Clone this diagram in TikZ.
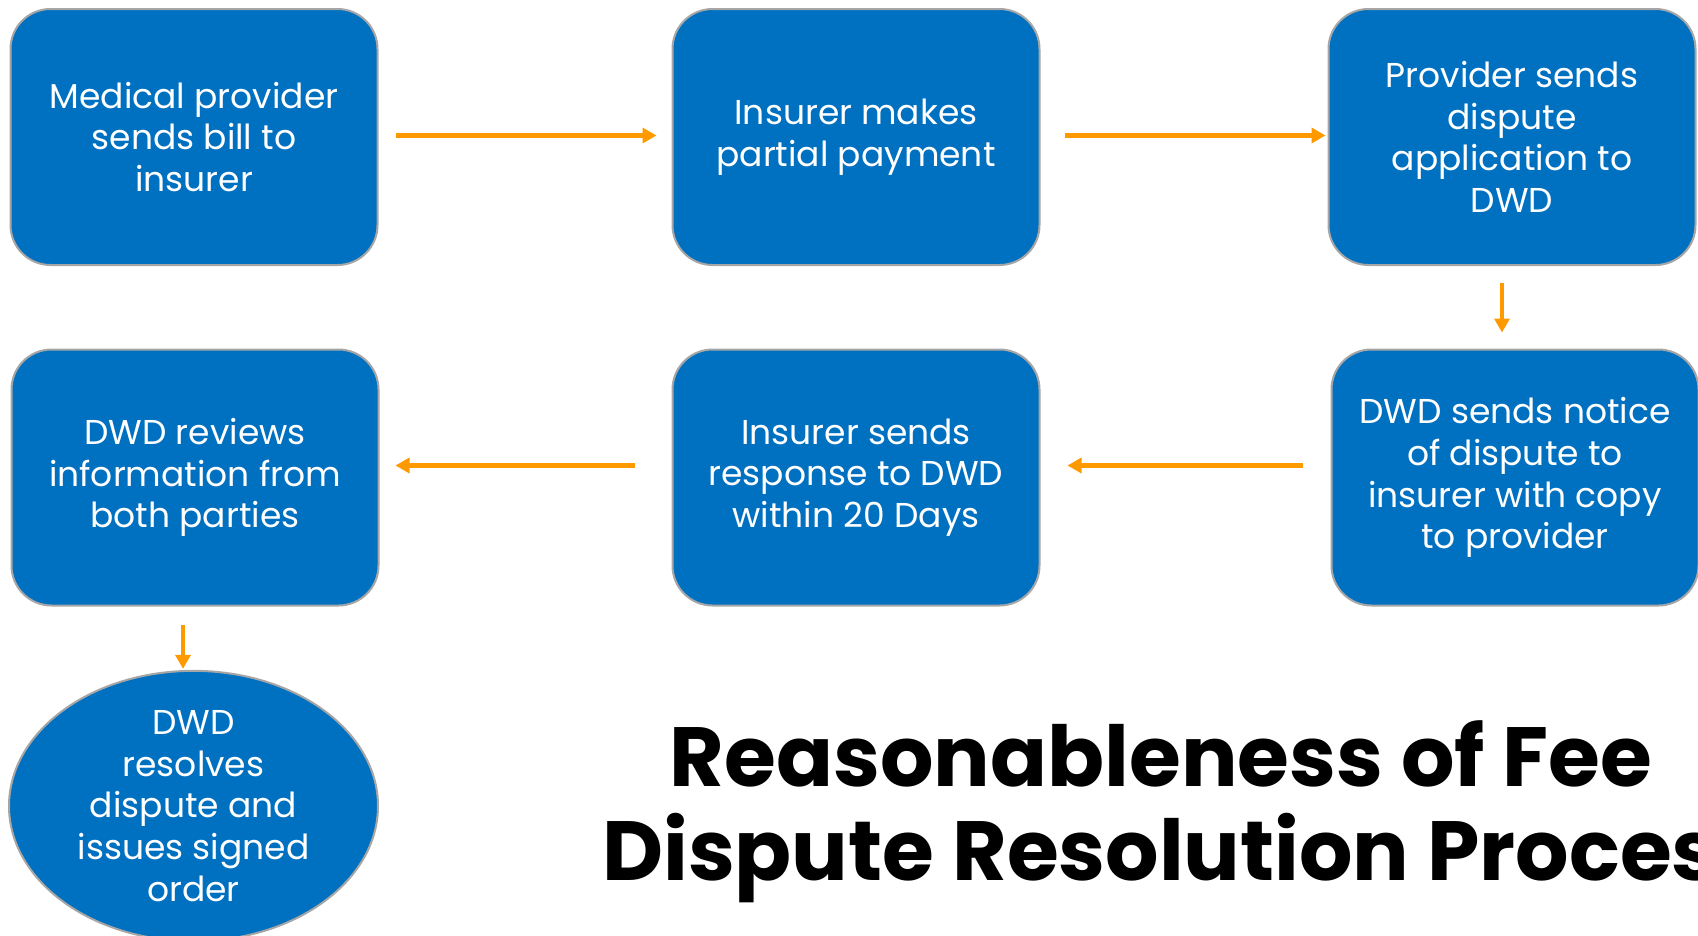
\documentclass[tikz,border=0pt]{standalone}
\usepackage{fontspec}
\setmainfont{Poppins}
\usetikzlibrary{shapes.geometric,arrows.meta}
\definecolor{stepblue}{HTML}{0070C0}
\definecolor{edgegray}{HTML}{A6A6A6}
\definecolor{flow}{HTML}{FF9900}
\begin{document}
\begin{tikzpicture}[x=1pt,y=-1pt,
  boxtext/.style={text=white, align=center, font=\fontsize{34.5}{41.7}\selectfont},
  stepbox/.style={boxtext, draw=edgegray, line width=2pt, fill=stepblue,
    rounded corners=40pt, minimum width=367pt, minimum height=256pt, inner sep=0pt},
  endstep/.style={boxtext, ellipse, draw=edgegray, line width=2pt, fill=stepblue,
    minimum width=369pt, minimum height=255pt, inner sep=0pt},
  flowarrow/.style={draw=flow, line width=4.5pt, -{Triangle[length=14pt,width=15pt]}},
  titletext/.style={font=\fontsize{84}{92}\selectfont\bfseries}
]
\useasboundingbox (0,0) rectangle (1698,935);
\clip (0,0) rectangle (1698,935);
\fill[white] (0,0) rectangle (1698,935);

% process steps, top row left to right, bottom row right to left
\node[stepbox] (bill)     at (194,137)    {Medical provider\\sends bill to\\insurer};
\node[stepbox] (partial)  at (856,137)    {Insurer makes\\partial payment};
\node[stepbox] (apply)    at (1512,137)   {Provider sends\\dispute\\application to\\DWD};
\node[stepbox] (notice)   at (1515,477.5) {DWD sends notice\\of dispute to\\insurer with copy\\to provider};
\node[stepbox] (response) at (856,477.5)  {Insurer sends\\response to DWD\\within 20 Days};
\node[stepbox] (review)   at (195,477.5)  {DWD reviews\\information from\\both parties};
\node[endstep] (order)    at (193.5,806)  {DWD\\resolves\\dispute and\\issues signed\\order};

% connectors
\draw[flowarrow, shorten <=17pt, shorten >=15pt]
  ([yshift=1.5pt]bill.east) -- ([yshift=1.5pt]partial.west);
\draw[flowarrow, shorten <=24pt, shorten >=2pt]
  ([yshift=1.5pt]partial.east) -- ([yshift=1.5pt]apply.west);
\draw[flowarrow, shorten <=17pt, shorten >=16pt]
  ([xshift=-10pt]apply.south) -- ([xshift=-10pt]apply.south |- notice.north);
\draw[flowarrow, shorten <=28pt, shorten >=27pt]
  ([yshift=12pt]notice.west) -- ([yshift=12pt]response.east);
\draw[flowarrow, shorten <=37pt, shorten >=16pt]
  ([yshift=12pt]response.west) -- ([yshift=12pt]review.east);
\draw[flowarrow, shorten <=18pt, shorten >=1pt]
  ([xshift=-12pt]review.south) -- ([xshift=-12pt]review.south |- order.north);

% heading
\node[titletext, anchor=base]      (title)     at (1161,786) {Reasonableness of Fee};
\node[titletext, anchor=base west, inner xsep=0pt] (titlecont) at (602,880) {Dispute Resolution Process};
\end{tikzpicture}
\end{document}
